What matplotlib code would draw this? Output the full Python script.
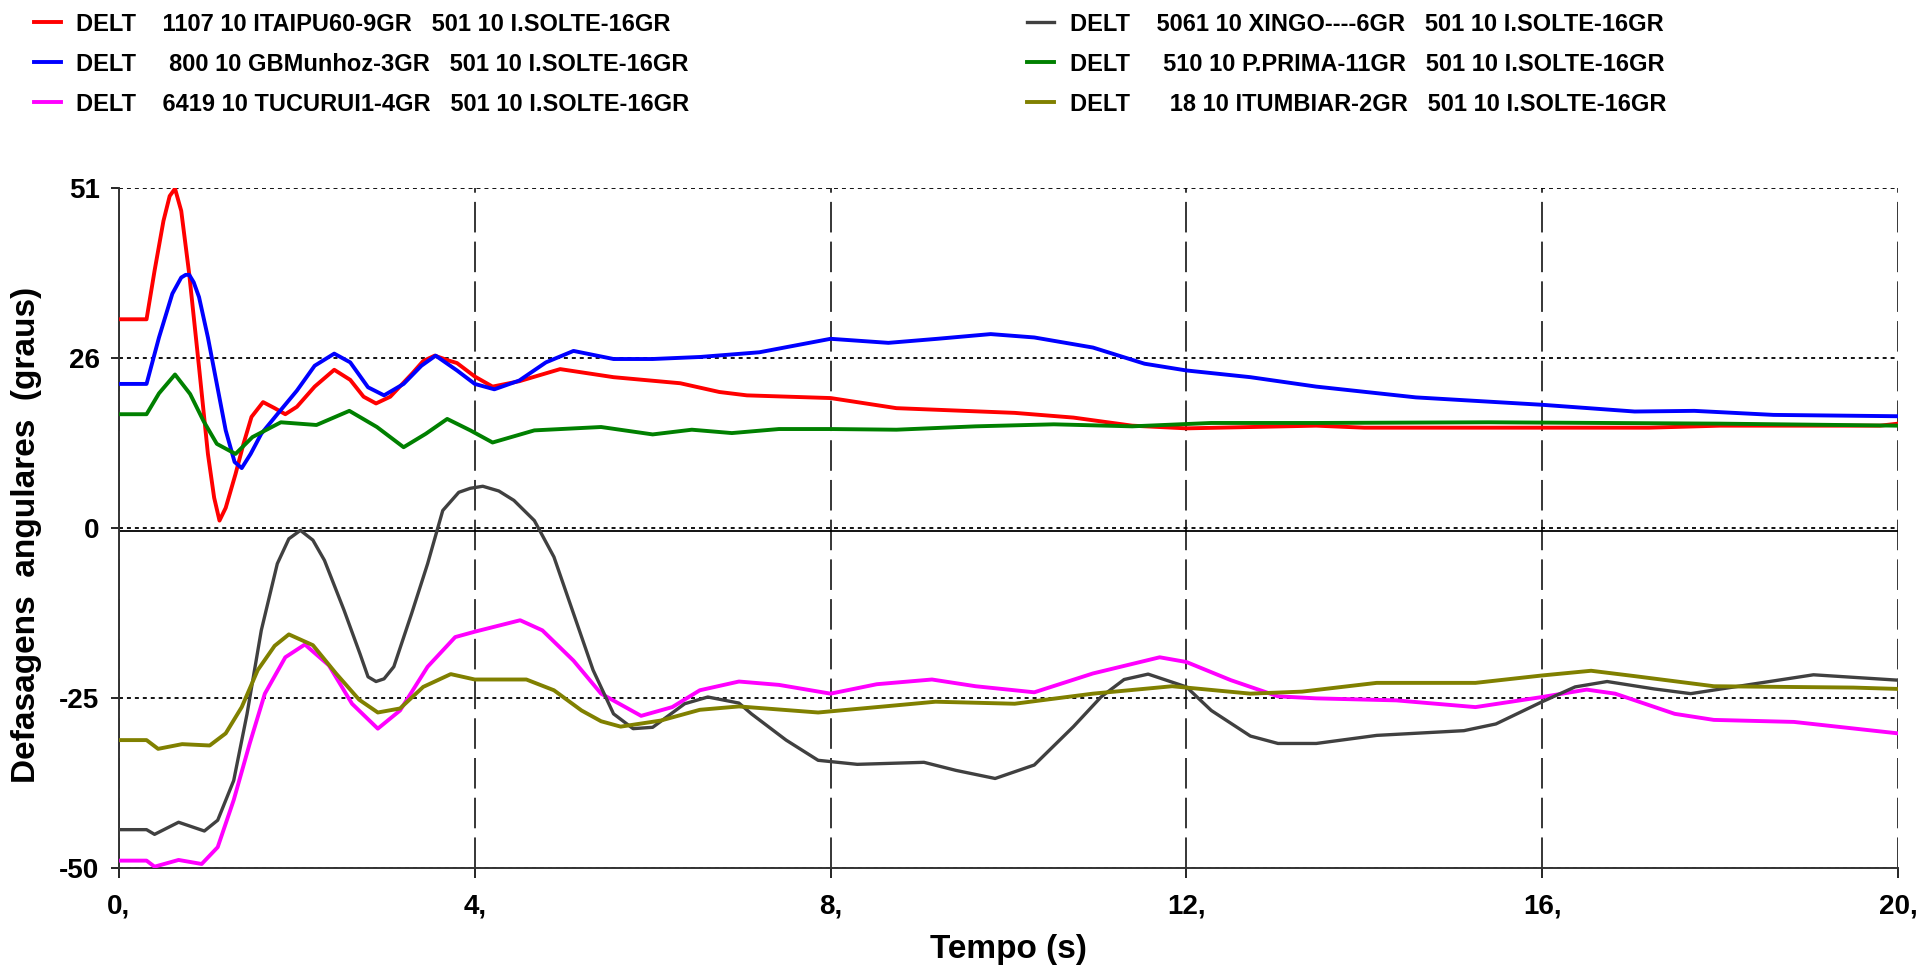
import matplotlib
matplotlib.use("Agg")
import matplotlib.pyplot as plt

plt.rcParams['font.family'] = ['Liberation Sans', 'DejaVu Sans']
plt.rcParams['font.weight'] = 'bold'

# curves (time in s, angle in degrees)
t_itaipu = [0, 0.31, 0.4, 0.5, 0.57, 0.63, 0.7, 0.79, 0.9, 1.0, 1.07, 1.13, 1.2, 1.31, 1.4, 1.49,
            1.62, 1.75, 1.87, 2.0, 2.2, 2.42, 2.6, 2.75, 2.89, 3.05, 3.3, 3.42, 3.55, 3.7, 3.8, 4.0, 4.2, 4.5,
            4.96, 5.56, 6.31, 6.75, 7.06, 8.0, 8.74, 10.07, 10.73, 11.39, 12.0, 13.46, 14.0, 16.0,
            17.2, 18.0, 19.8, 20.0]
y_itaipu = [31.5, 31.5, 38.7, 46.1, 49.8, 50.9, 47.6, 38.2, 24.4, 11.5, 5.0, 1.6, 3.5, 8.5, 13.0, 17.0,
            19.2, 18.3, 17.4, 18.5, 21.5, 24.0, 22.5, 20.0, 19.0, 20.0, 23.5, 25.3, 26.1, 25.4, 25.0, 23.0, 21.5, 22.3,
            24.1, 22.9, 22.0, 20.7, 20.2, 19.8, 18.3, 17.6, 16.9, 15.7, 15.3, 15.7, 15.4, 15.4,
            15.4, 15.7, 15.7, 16.0]

t_gbm = [0, 0.31, 0.45, 0.6, 0.7, 0.75, 0.79, 0.84, 0.9, 1.0, 1.1, 1.2, 1.3, 1.38, 1.48, 1.6, 1.78, 2.0, 2.2,
         2.42, 2.6, 2.8, 2.98, 3.2, 3.4, 3.56, 3.8, 4.0, 4.22, 4.5, 4.8, 5.11, 5.56, 6.0, 6.53, 7.2,
         8.0, 8.65, 9.2, 9.8, 10.29, 10.95, 11.53, 12.0, 12.72, 13.46, 14.58, 16.0, 17.04, 17.71,
         18.6, 20.0]
y_gbm = [21.9, 21.9, 28.8, 35.3, 37.7, 38.1, 38.1, 37.0, 34.8, 28.8, 21.9, 15.0, 10.3, 9.4, 11.5, 14.5, 17.4,
         20.9, 24.6, 26.4, 25.1, 21.4, 20.2, 21.9, 24.6, 26.1, 23.9, 21.9, 21.1, 22.4, 25.1, 26.8, 25.6, 25.6,
         25.9, 26.6, 28.6, 28.0, 28.6, 29.3, 28.8, 27.3, 24.9, 23.9, 22.9, 21.5, 19.9, 18.8, 17.8, 17.9,
         17.3, 17.1]

t_tucurui = [0, 0.31, 0.4, 0.67, 0.93, 1.11, 1.29, 1.47, 1.64, 1.87, 2.09, 2.36, 2.62, 2.91, 3.16, 3.47,
             3.78, 4.0, 4.51, 4.76, 5.11, 5.42, 5.87, 6.22, 6.53, 6.97, 7.42, 8.0, 8.52, 9.14, 9.63, 10.29,
             10.95, 11.7, 12.0, 12.5, 13.03, 13.46, 14.36, 15.25, 16.0, 16.5, 16.82, 17.49, 17.93, 18.83, 20.0]
y_tucurui = [-48.9, -48.9, -49.8, -48.8, -49.4, -46.9, -39.9, -31.5, -24.1, -18.7, -16.8, -19.9, -25.6, -29.3,
             -26.6, -20.1, -15.7, -14.9, -13.2, -14.7, -19.2, -24.1, -27.4, -26.1, -23.6, -22.3, -22.8, -24.1,
             -22.7, -22.0, -23.0, -23.9, -21.1, -18.7, -19.4, -22.1, -24.5, -24.8, -25.1, -26.1, -24.6, -23.5,
             -24.1, -27.1, -28.0, -28.3, -30.0]

t_xingo = [0, 0.31, 0.4, 0.67, 0.96, 1.11, 1.29, 1.44, 1.6, 1.78, 1.91, 2.04, 2.18, 2.31, 2.53, 2.71, 2.8, 2.89,
           2.98, 3.09, 3.29, 3.47, 3.64, 3.82, 3.95, 4.09, 4.27, 4.44, 4.67, 4.89, 5.11, 5.33, 5.56, 5.78, 6.0,
           6.36, 6.62, 6.97, 7.11, 7.5, 7.86, 8.3, 9.05, 9.41, 9.85, 10.29, 10.73, 11.04, 11.3, 11.57, 12.0,
           12.28, 12.72, 13.03, 13.46, 14.14, 15.12, 15.48, 16.0, 16.37, 16.73, 17.26, 17.67, 18.16, 19.05, 20.0]
y_xingo = [-44.3, -44.3, -45.0, -43.2, -44.5, -42.9, -37.0, -27.1, -14.7, -4.8, -1.1, 0.15, -1.3, -4.3, -11.7,
           -18.2, -21.6, -22.3, -21.9, -20.1, -12.2, -4.8, 3.1, 5.8, 6.4, 6.7, 6.0, 4.6, 1.6, -3.8, -12.2, -20.6,
           -27.1, -29.3, -29.1, -25.6, -24.6, -25.5, -27.1, -31.0, -34.0, -34.6, -34.3, -35.5, -36.7, -34.7,
           -29.0, -24.6, -22.0, -21.2, -23.1, -26.6, -30.4, -31.5, -31.5, -30.3, -29.6, -28.6, -25.3, -23.1,
           -22.3, -23.4, -24.1, -23.1, -21.3, -22.1]

t_pprima = [0, 0.31, 0.45, 0.63, 0.8, 0.95, 1.1, 1.31, 1.5, 1.82, 2.22, 2.59, 2.9, 3.2, 3.45, 3.69, 3.95,
            4.2, 4.67, 5.42, 6.0, 6.44, 6.89, 7.42, 8.0, 8.74, 9.63, 10.51, 11.39, 12.28, 13.46, 15.4, 18.0, 20.0]
y_pprima = [17.4, 17.4, 20.5, 23.3, 20.4, 16.4, 13.0, 11.5, 14.0, 16.2, 15.8, 17.9, 15.5, 12.5, 14.5, 16.7, 15.0,
            13.2, 15.0, 15.5, 14.4, 15.1, 14.6, 15.2, 15.2, 15.1, 15.6, 15.9, 15.6, 16.1, 16.1, 16.2, 16.0, 15.7]

t_itumbiar = [0, 0.31, 0.44, 0.71, 1.02, 1.2, 1.38, 1.56, 1.75, 1.91, 2.18, 2.44, 2.7, 2.91, 3.16, 3.42, 3.73,
              4.0, 4.58, 4.89, 5.2, 5.42, 5.64, 6.09, 6.53, 6.97, 7.86, 9.18, 10.07, 10.95, 11.84, 12.72, 13.3,
              14.14, 15.25, 16.0, 16.55, 17.04, 17.93, 19.5, 20.0]
y_itumbiar = [-31.0, -31.0, -32.3, -31.6, -31.8, -30.0, -26.1, -20.6, -17.0, -15.3, -16.9, -21.1, -25.0, -26.9,
              -26.3, -23.1, -21.2, -22.0, -22.0, -23.6, -26.6, -28.2, -29.0, -28.1, -26.5, -26.0, -26.9, -25.3,
              -25.6, -24.1, -23.0, -24.1, -23.8, -22.5, -22.5, -21.4, -20.7, -21.5, -23.0, -23.2, -23.4]

labels = [
    "DELT    1107 10 ITAIPU60-9GR   501 10 I.SOLTE-16GR",
    "DELT     800 10 GBMunhoz-3GR   501 10 I.SOLTE-16GR",
    "DELT    6419 10 TUCURUI1-4GR   501 10 I.SOLTE-16GR",
    "DELT    5061 10 XINGO----6GR   501 10 I.SOLTE-16GR",
    "DELT     510 10 P.PRIMA-11GR   501 10 I.SOLTE-16GR",
    "DELT      18 10 ITUMBIAR-2GR   501 10 I.SOLTE-16GR",
]
colors = ['#ff0000', '#0000ff', '#ff00ff', '#404040', '#008000', '#808000']

yticks = [-50, -24.75, 0.5, 25.75, 51]
ytick_labels = ['-50', '-25', '0', '26', '51']
xticks = [0, 4, 8, 12, 16, 20]
xtick_labels = ['0,', '4,', '8,', '12,', '16,', '20,']

series = [(t_itaipu, y_itaipu), (t_gbm, y_gbm), (t_tucurui, y_tucurui),
          (t_xingo, y_xingo), (t_pprima, y_pprima), (t_itumbiar, y_itumbiar)]

fig = plt.figure(figsize=(19.22, 9.69), dpi=100)
ax = fig.add_axes([0.0619, 0.1042, 0.9256, 0.7018])

handles = []
for (t, y), lab, col in zip(series, labels, colors):
    lw = 2.4 if col == '#404040' else 2.8
    ln, = ax.plot(t, y, color=col, lw=lw, label=lab, zorder=3)
    handles.append(ln)

ax.axhline(0, color='black', lw=1.3, zorder=2)

ax.set_xlim(0, 20)
ax.set_ylim(-50, 51)
ax.set_xticks(xticks)
ax.set_xticklabels(xtick_labels)
ax.set_yticks(yticks)
ax.set_yticklabels(ytick_labels)
ax.tick_params(axis='both', labelsize=20, colors='black', width=1.2)
ax.tick_params(axis='x', length=7, pad=11)
ax.tick_params(axis='y', length=6, pad=8)

ax.xaxis.grid(True, color='black', lw=1.1, linestyle=(0, (20, 6)))
ax.yaxis.grid(True, color='black', lw=1.3, linestyle=(0, (2.2, 2.2)))
ax.set_axisbelow(True)

for s in ['top', 'right']:
    ax.spines[s].set_visible(False)
for s in ['left', 'bottom']:
    ax.spines[s].set_color('#333333')
    ax.spines[s].set_linewidth(1.4)

ax.set_xlabel('Tempo (s)', fontsize=24, fontweight='bold')
ax.xaxis.set_label_coords(0.5, -0.097)
ax.set_ylabel('Defasagens  angulares  (graus)', fontsize=24, fontweight='bold')
ax.yaxis.set_label_coords(-0.043, 0.49)

leg_kw = dict(loc='upper left', frameon=False, fontsize=17, handlelength=1.15,
              handletextpad=0.64, labelspacing=0.72, borderpad=0, borderaxespad=0)
fig.legend(handles[:3], labels[:3], bbox_to_anchor=(0.0177, 0.987), **leg_kw)
fig.legend(handles[3:], labels[3:], bbox_to_anchor=(0.5345, 0.987), **leg_kw)

fig.savefig('out.png', dpi=100)
